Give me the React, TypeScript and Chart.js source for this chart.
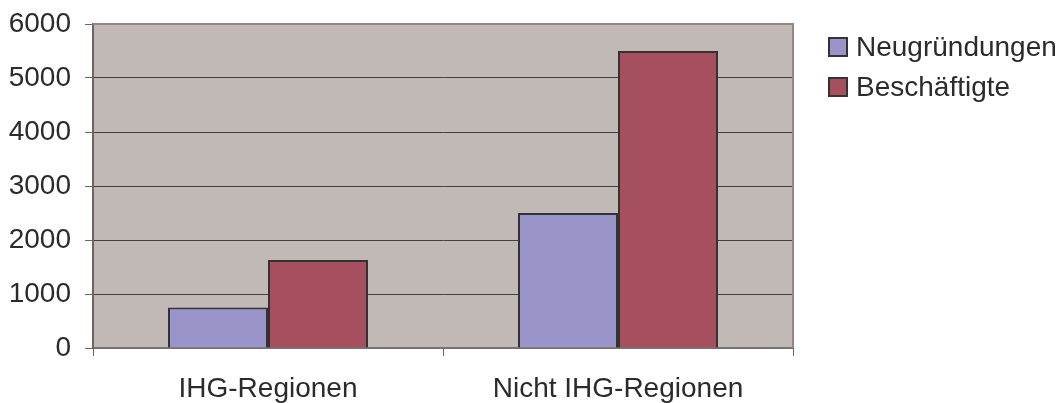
import React, { useEffect, useRef } from "react";
import { Chart, registerables } from "chart.js";

Chart.register(...registerables);

// Regions on the category axis
const categories = ["IHG-Regionen", "Nicht IHG-Regionen"];
// New firms and employees per region group
const neugruendungen = [750, 2500];
const beschaeftigte = [1630, 5500];
const seriesNames = ["Neugründungen", "Beschäftigte"];
const seriesColors = ["#9A95C9", "#A6505F"];
const yTicks = [0, 1000, 2000, 3000, 4000, 5000, 6000];

const FONT = "Liberation Sans, Arial, sans-serif";

// Grey plot-area background behind the grid
const plotBackground = {
  id: "plotBackground",
  beforeDraw(chart: any) {
    const { ctx, chartArea } = chart;
    ctx.save();
    ctx.fillStyle = "#C0B9B6";
    ctx.fillRect(chartArea.left, chartArea.top, chartArea.right - chartArea.left, chartArea.bottom - chartArea.top);
    ctx.restore();
  },
  afterDraw(chart: any) {
    const { ctx, chartArea } = chart;
    ctx.save();
    ctx.strokeStyle = "#918787";
    ctx.lineWidth = 2;
    ctx.beginPath();
    ctx.moveTo(chartArea.left, chartArea.top);
    ctx.lineTo(chartArea.right, chartArea.top);
    ctx.lineTo(chartArea.right, chartArea.bottom);
    ctx.stroke();
    ctx.restore();
  },
};

// Legend to the right of the plot: square swatches with labels
const sideLegend = {
  id: "sideLegend",
  afterDraw(chart: any) {
    const { ctx } = chart;
    ctx.save();
    ctx.font = `28px ${FONT}`;
    ctx.textBaseline = "middle";
    ctx.textAlign = "left";
    seriesNames.forEach((name, i) => {
      const cy = 47 + i * 40;
      ctx.fillStyle = seriesColors[i];
      ctx.fillRect(829, cy - 9, 18, 18);
      ctx.strokeStyle = "#333333";
      ctx.lineWidth = 2;
      ctx.strokeRect(829, cy - 9, 18, 18);
      ctx.fillStyle = "#2b2b2b";
      ctx.fillText(name, 856, cy + 1);
    });
    ctx.restore();
  },
};

export default function App() {
  const canvasRef = useRef<HTMLCanvasElement | null>(null);

  useEffect(() => {
    if (!canvasRef.current) return;
    const chart = new Chart(canvasRef.current, {
      type: "bar",
      data: {
        labels: categories,
        datasets: [
          {
            label: seriesNames[0],
            data: neugruendungen,
            backgroundColor: seriesColors[0],
            borderColor: "#333333",
            borderWidth: 2,
            categoryPercentage: 200 / 350,
            barPercentage: 1,
          },
          {
            label: seriesNames[1],
            data: beschaeftigte,
            backgroundColor: seriesColors[1],
            borderColor: "#333333",
            borderWidth: 2,
            categoryPercentage: 200 / 350,
            barPercentage: 1,
          },
        ],
      },
      options: {
        animation: false,
        responsive: false,
        maintainAspectRatio: false,
        layout: { padding: { top: 24, right: 266, left: 0, bottom: 0 } },
        plugins: {
          legend: { display: false },
          tooltip: { enabled: false },
        },
        scales: {
          x: {
            offset: true,
            grid: {
              offset: true,
              drawOnChartArea: false,
              drawTicks: true,
              tickLength: 8,
              tickColor: "#6e6464",
              lineWidth: 1,
            },
            border: { display: true, color: "#7a7070", width: 2 },
            ticks: {
              color: "#2b2b2b",
              font: { family: FONT, size: 28 },
              padding: 16,
              maxRotation: 0,
            },
            afterFit(scale: any) {
              scale.height = 55;
              scale.paddingLeft = 0;
              scale.paddingRight = 0;
            },
          },
          y: {
            min: 0,
            max: 6000,
            afterBuildTicks(scale: any) {
              scale.ticks = yTicks.map((v) => ({ value: v }));
            },
            grid: {
              color: "#404040",
              lineWidth: 1,
              drawTicks: true,
              tickLength: 8,
              tickColor: "#6e6464",
            },
            border: { display: true, color: "#6e6464", width: 2 },
            ticks: {
              color: "#2b2b2b",
              font: { family: FONT, size: 28 },
              padding: 14,
              callback: (value: any) => String(value),
            },
            afterFit(scale: any) {
              scale.width = 93;
              scale.paddingTop = 0;
              scale.paddingBottom = 0;
            },
          },
        },
      },
      plugins: [plotBackground, sideLegend],
    });
    return () => chart.destroy();
  }, []);

  return (
    <div style={{ position: "fixed", left: 0, top: 0, width: 1059, height: 403, background: "#fff" }}>
      <canvas ref={canvasRef} width={1059} height={403} style={{ width: 1059, height: 403, display: "block" }} />
    </div>
  );
}
